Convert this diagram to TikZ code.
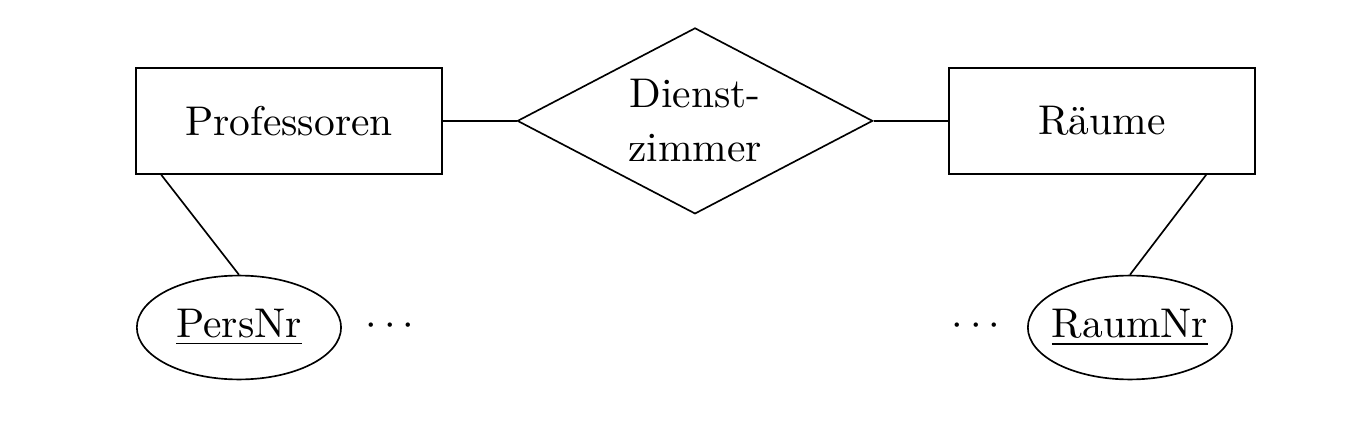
\documentclass[tikz,border=0pt]{standalone}
\usepackage{tikz}
\usetikzlibrary{shapes.geometric}

\begin{document}
\begin{tikzpicture}[
    entity/.style={draw, rectangle, minimum width=2.59cm,
                   minimum height=0.9cm, inner sep=0pt},
    relship/.style={draw, diamond, aspect=1.91, minimum width=3.01cm,
                    minimum height=1.575cm, inner sep=0pt, align=center},
    keyattr/.style={draw, ellipse, minimum width=1.73cm,
                    minimum height=0.88cm, inner ysep=0pt, inner xsep=-1.6pt}]
        \useasboundingbox (0,0) rectangle (11.46,3.634);

        % Entities and relationship
        \node[entity] (prof) at (2.448,2.61) {Professoren};
        \node[relship] (dienst) at (5.887,2.61) {Dienst-\\[1pt]zimmer};
        \node[entity] (raeume) at (9.334,2.61) {Räume};
        \draw (prof.east) -- (dienst.west);
        \draw (dienst.east) -- (raeume.west);

        % Key attributes
        \node[keyattr] (persnr) at (2.024,0.86) {\underline{PersNr}};
        \node[keyattr] (raumnr) at (9.571,0.86) {\underline{RaumNr}};
        \draw ([xshift=0.22cm]prof.south west) -- (persnr.north);
        \draw ([xshift=-0.42cm]raeume.south east) -- (raumnr.north);

        % Further attributes
        \node (dotsl) at (3.303,0.87) {$\cdots$};
        \node (dotsr) at (8.267,0.87) {$\cdots$};
      \end{tikzpicture}
\end{document}
